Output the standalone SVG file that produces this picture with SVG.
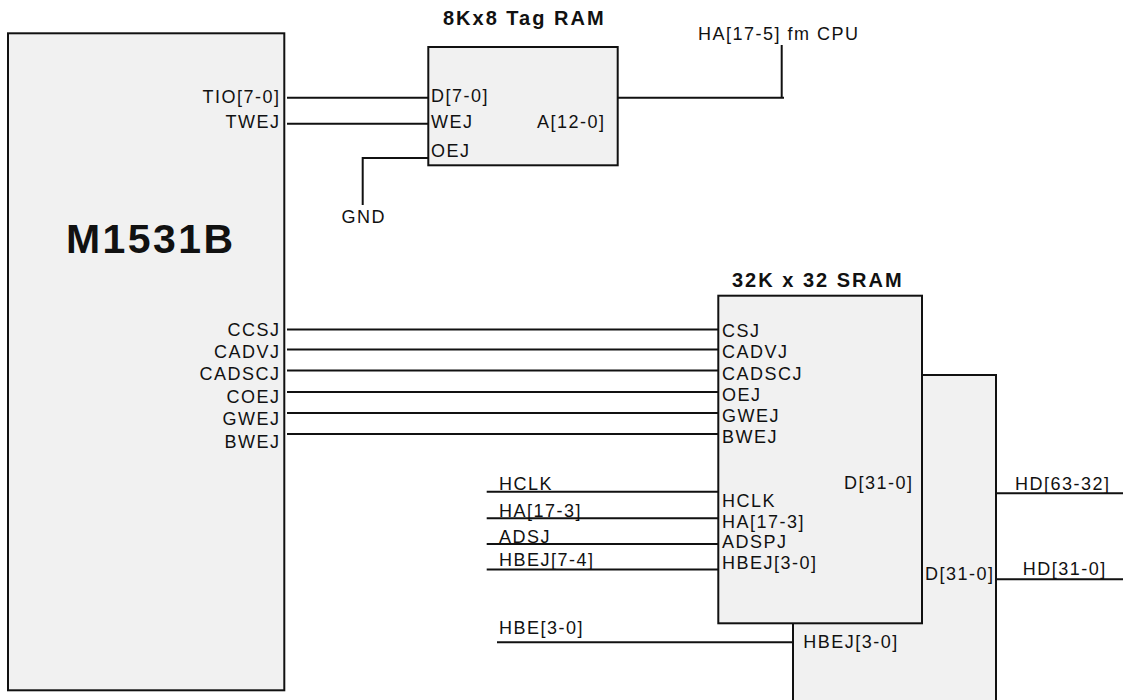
<svg xmlns="http://www.w3.org/2000/svg" width="1123" height="700" viewBox="0 0 1123 700">
<style>
.box{fill:#f1f1f1;stroke:#111;stroke-width:2}
.w{stroke:#111;stroke-width:2;fill:none}
text{font-family:"Liberation Sans",Arial,sans-serif;fill:#111}
.s{font-size:18px;letter-spacing:1.5px}
.e{text-anchor:end}
.t{font-size:20px;font-weight:bold;letter-spacing:2px}
</style>
<rect width="1123" height="700" fill="#fff"/>
<g id="connectors">
<path class="w" d="M287 97.7H428.3M287 123.8H428.3M428.3 158H362.7V205"/>
<path class="w" d="M617.7 97.7H784M781.7 97.7V45"/>
<path class="w" d="M287 329.5H718.3M287 349.5H718.3M287 370.5H718.3M287 392H718.3M287 413H718.3M287 434H718.3"/>
<path class="w" d="M486.7 491.7H718.3M486.7 518.3H718.3M486.7 544H718.3M486.7 569.5H718.3"/>
<path class="w" d="M497 642.3H793"/>
<path class="w" d="M996 493.3H1123M996 579.3H1123"/>
</g>
<g id="m1531b">
<rect class="box" x="8" y="33.3" width="276.3" height="657"/>
<text x="66" y="253" font-size="41" font-weight="bold" textLength="167" lengthAdjust="spacing">M1531B</text>
<text class="s e" x="280.5" y="102.7">TIO[7-0]</text>
<text class="s e" x="280.5" y="127.5">TWEJ</text>
<text class="s e" x="280.5" y="336">CCSJ</text>
<text class="s e" x="280.5" y="357.5">CADVJ</text>
<text class="s e" x="280.5" y="379.5">CADSCJ</text>
<text class="s e" x="280.5" y="402.5">COEJ</text>
<text class="s e" x="280.5" y="424.5">GWEJ</text>
<text class="s e" x="280.5" y="448">BWEJ</text>
</g>
<g id="tagram">
<rect class="box" x="428.3" y="47" width="189.4" height="118.3"/>
<text class="t" x="443" y="25">8Kx8 Tag RAM</text>
<text class="s" x="431" y="101.7">D[7-0]</text>
<text class="s" x="431" y="128.3">WEJ</text>
<text class="s" x="431" y="156.7">OEJ</text>
<text class="s e" x="605.5" y="128.3">A[12-0]</text>
</g>
<g id="hacpu"><text class="s" x="698" y="40">HA[17-5] fm CPU</text></g>
<g id="gnd"><text class="s" x="341.5" y="222.7">GND</text></g>
<g id="sram2">
<rect class="box" x="793" y="375" width="203" height="340"/>
<text class="s" x="925" y="580">D[31-0]</text>
<text class="s" x="803.3" y="648.3">HBEJ[3-0]</text>
</g>
<g id="sram1">
<rect class="box" x="718.3" y="295.7" width="203.7" height="327.6"/>
<text class="t" x="732" y="286.7">32K x 32 SRAM</text>
<text class="s" x="722" y="336.7">CSJ</text>
<text class="s" x="722" y="358">CADVJ</text>
<text class="s" x="722" y="379.5">CADSCJ</text>
<text class="s" x="722" y="400.5">OEJ</text>
<text class="s" x="722" y="422">GWEJ</text>
<text class="s" x="722" y="443.3">BWEJ</text>
<text class="s e" x="913.5" y="489.3">D[31-0]</text>
<text class="s" x="722" y="506.7">HCLK</text>
<text class="s" x="722" y="527.7">HA[17-3]</text>
<text class="s" x="722" y="548.3">ADSPJ</text>
<text class="s" x="722" y="569.3">HBEJ[3-0]</text>
</g>
<g id="inputs">
<text class="s" x="499" y="490">HCLK</text>
<text class="s" x="499" y="517">HA[17-3]</text>
<text class="s" x="499" y="543">ADSJ</text>
<text class="s" x="499" y="566">HBEJ[7-4]</text>
<text class="s" x="499" y="634.3">HBE[3-0]</text>
</g>
<g id="outputs">
<text class="s" x="1015" y="490">HD[63-32]</text>
<text class="s" x="1022.7" y="575">HD[31-0]</text>
</g>
</svg>
